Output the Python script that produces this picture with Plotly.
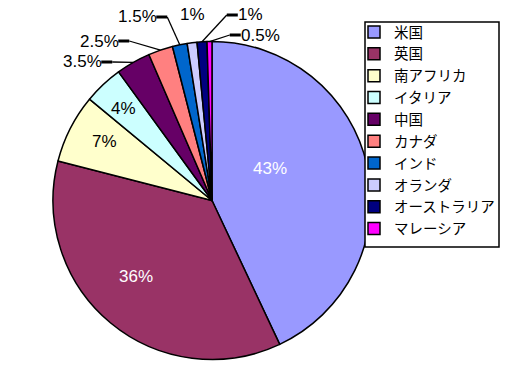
import math
import plotly.graph_objects as go

# ---- data ----
countries = ["米国", "英国", "南アフリカ", "イタリア", "中国", "カナダ", "インド", "オランダ", "オーストラリア", "マレーシア"]
shares = [43, 36, 7, 4, 3.5, 2.5, 1.5, 1, 1, 0.5]

# ---- styles ----
colors = ["#9999FF", "#993366", "#FFFFCC", "#CCFFFF", "#660066", "#FF8080",
          "#0066CC", "#CCCCFF", "#000080", "#FF00FF"]
text_colors = ["white", "white", "black", "black", "black", "black", "black", "black", "black", "black"]
# label placement (pixel centres) and leader style: side of text where leader starts (None = no leader)
label_pos = [(270, 168), (136, 276), (104, 141), (123, 109), (82, 62), (99, 41),
             (137, 17), (192, 15), (250, 15), (260, 35)]
leader_side = [None, None, None, None, "right", "right", "right", None, "left", "left"]

W, H = 513, 372
CX, CY, R = 212, 200.5, 159
FONT_LBL = 17
LEG_BOX = (365, 22, 499, 247)


def px(x):
    return x / W


def py(y):
    return 1 - y / H


fig = go.Figure(go.Pie(
    labels=countries, values=shares, sort=False, direction="clockwise", rotation=0,
    marker=dict(colors=colors, line=dict(color="black", width=1.5)),
    textinfo="none", hoverinfo="label+percent",
    domain=dict(x=[px(CX - R), px(CX + R)], y=[py(CY + R), py(CY - R)]),
))

total = sum(shares)
annotations = []
shapes = []
cum = 0
for i, v in enumerate(shares):
    mid = (cum + v / 2) / total
    cum += v
    ang = 2 * math.pi * mid
    ax, ay = CX + R * math.sin(ang), CY - R * math.cos(ang)
    lx, ly = label_pos[i]
    txt = f"{v:g}%"
    annotations.append(dict(x=px(lx), y=py(ly), xref="paper", yref="paper", text=txt,
                            showarrow=False, font=dict(family="Liberation Sans, Arial", size=FONT_LBL,
                                                       color=text_colors[i]),
                            xanchor="center", yanchor="middle"))
    side = leader_side[i]
    if side:
        tw = sum(4.7 if c == "." else 9.4 for c in txt[:-1]) + 15
        half = tw / 2
        if side == "right":
            x0 = lx + half
            x1 = x0 + 11
        else:
            x0 = lx - half
            x1 = x0 - 11
        shapes.append(dict(type="line", xref="paper", yref="paper", x0=px(x0), y0=py(ly), x1=px(x1), y1=py(ly),
                           line=dict(color="black", width=3)))
        shapes.append(dict(type="line", xref="paper", yref="paper", x0=px(x1), y0=py(ly), x1=px(ax), y1=py(ay),
                           line=dict(color="black", width=1.3)))

# legend frame
bx0, by0, bx1, by1 = LEG_BOX
shapes.append(dict(type="rect", xref="paper", yref="paper", x0=px(bx0), y0=py(by1), x1=px(bx1), y1=py(by0),
                   fillcolor="white", line=dict(color="black", width=1.5), layer="above"))

fig.update_layout(
    width=W, height=H, margin=dict(l=0, r=0, t=0, b=0),
    paper_bgcolor="white", plot_bgcolor="white",
    showlegend=True,
    legend=dict(x=px(366), y=py(16), xanchor="left", yanchor="top",
                bgcolor="rgba(0,0,0,0)", borderwidth=0,
                font=dict(family="Noto Sans CJK JP", size=14.5, color="black"),
                traceorder="normal", indentation=-12),
    annotations=annotations, shapes=shapes,
)

fig.write_html("out.html", config={"displayModeBar": False},
               post_script="document.body.style.margin='0';document.body.style.overflow='hidden';")
